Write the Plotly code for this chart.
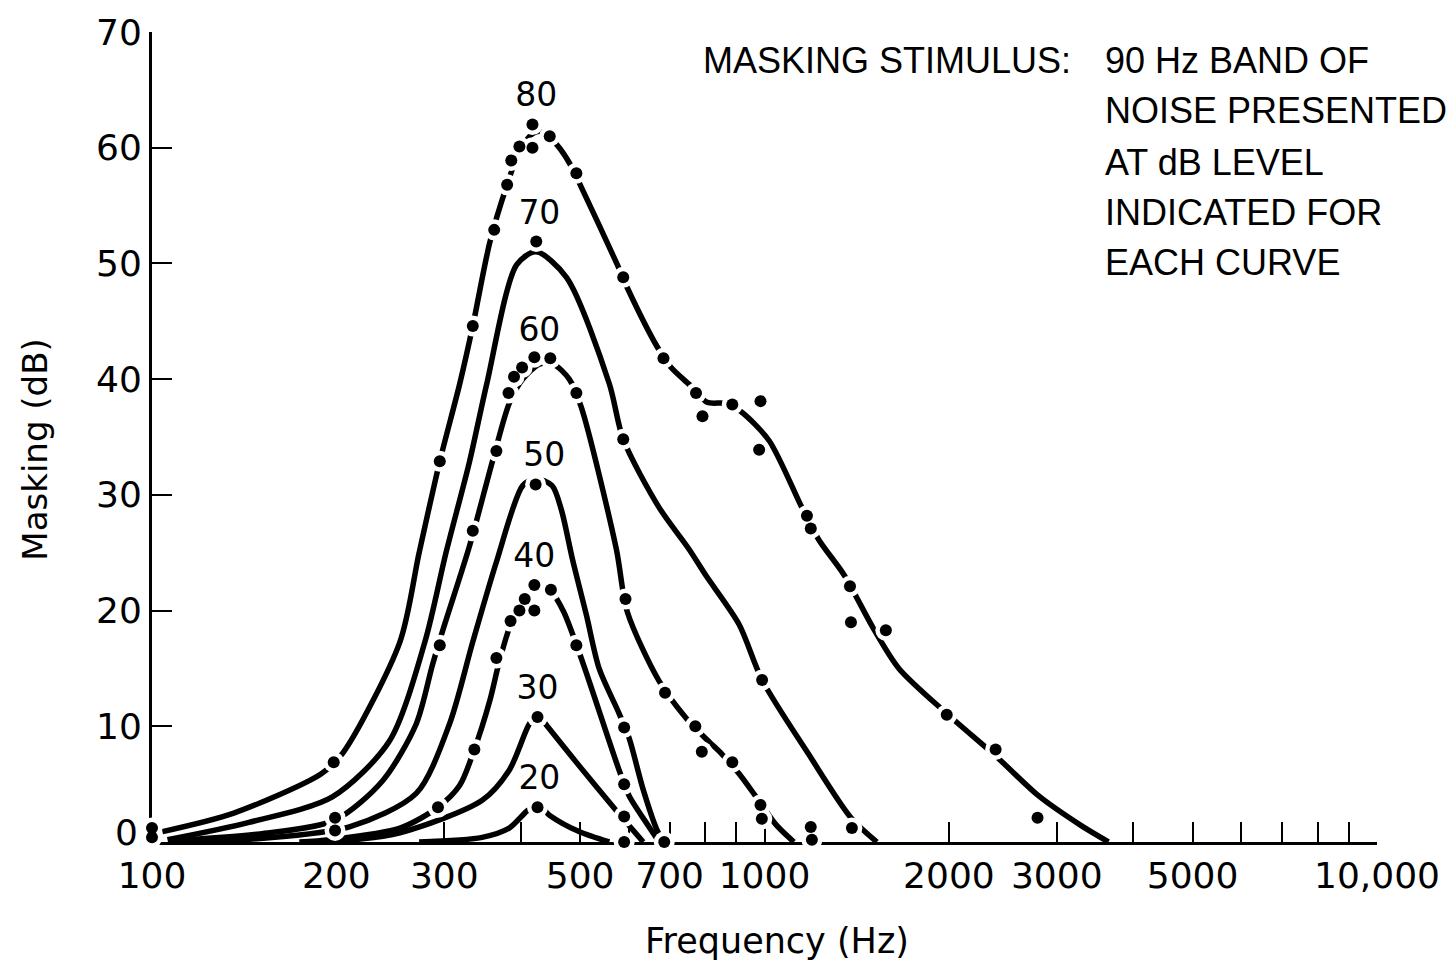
import plotly.graph_objects as go

# ---------------- data ----------------
levels = [80, 70, 60, 50, 40, 30, 20]

# smooth fitted curves (frequency Hz, masking dB)
c80_line_f = [104, 136, 189, 205, 254, 273, 295, 318, 334, 356, 380, 398, 418, 432, 459, 480, 498, 575, 597, 668, 704, 762, 806, 865, 915, 1017, 1151, 1227, 1348, 1508, 1657, 1984, 2400, 2800, 3270, 3644]
c80_line_db = [0.9, 2.5, 5.9, 7.7, 17.3, 25.0, 32.9, 39.6, 44.6, 51.8, 56.8, 59.7, 61.2, 61.4, 60.2, 58.7, 57.0, 49.9, 47.9, 42.8, 41.0, 39.3, 38.0, 37.9, 37.2, 34.7, 28.9, 26.1, 23.1, 18.4, 15.0, 11.1, 7.3, 4.0, 1.5, 0.0]

c70_line_f = [106, 144, 197, 244, 279, 302, 330, 352, 394, 424, 475, 558, 588, 673, 753, 803, 909, 991, 1180, 1384, 1526]
c70_line_db = [0.2, 1.7, 3.9, 8.7, 17.3, 25.0, 32.9, 39.6, 49.9, 51.0, 48.8, 39.6, 34.8, 28.9, 25.3, 23.0, 18.8, 14.0, 7.6, 2.1, 0.0]

c60_line_f = [107, 150, 199, 238, 270, 287, 298, 330, 360, 383, 403, 429, 452, 480, 502, 573, 597, 673, 745, 803, 852, 909, 969, 1044, 1117]
c60_line_db = [0.1, 0.7, 1.9, 5.3, 10.2, 15.3, 18.2, 25.6, 33.0, 37.9, 40.0, 41.3, 41.3, 40.0, 37.6, 25.3, 19.9, 13.9, 10.7, 8.9, 7.6, 5.9, 3.9, 1.5, 0.0]

c50_line_f = [109, 150, 210, 270, 306, 334, 365, 403, 423, 450, 466, 486, 512, 537, 579, 601, 634, 668, 686]
c50_line_db = [0.0, 0.3, 1.3, 4.2, 10.2, 17.3, 24.2, 30.8, 31.4, 30.8, 28.7, 24.4, 19.6, 15.0, 11.1, 9.0, 4.5, 1.0, 0.0]

c40_line_f = [174, 195, 254, 293, 318, 336, 356, 369, 386, 406, 429, 449, 470, 502, 579, 601, 648, 673]
c40_line_db = [0.0, 0.2, 1.2, 3.0, 4.9, 8.0, 12.2, 15.6, 19.0, 21.4, 22.0, 21.6, 19.9, 15.9, 6.2, 4.0, 1.3, 0.0]

c30_line_f = [195, 254, 346, 383, 413, 426, 442, 498, 573, 634]
c30_line_db = [0.0, 0.8, 3.6, 6.2, 10.2, 11.0, 10.0, 6.6, 2.7, 0.0]

c20_line_f = [273, 346, 383, 410, 426, 446, 498, 558]
c20_line_db = [0.0, 0.4, 1.2, 2.7, 3.2, 2.3, 0.9, 0.0]

# measured data points
c80_dot_f = [100, 198, 295, 334, 362, 380, 386, 398, 418, 418, 446, 493, 588, 684, 773, 792, 886, 985, 980, 1173, 1190, 1379, 1384, 1578, 1984, 2384, 2791]
c80_dot_db = [1.2, 6.9, 32.9, 44.6, 52.9, 56.8, 58.9, 60.1, 60.0, 62.0, 61.0, 57.8, 48.8, 41.8, 38.8, 36.8, 37.8, 38.1, 33.9, 28.2, 27.1, 22.1, 19.0, 18.3, 11.0, 8.0, 2.1]

c70_dot_f = [100, 424, 588, 991, 1389]
c70_dot_db = [0.4, 51.9, 34.8, 14.0, 1.2]

c60_dot_f = [199, 295, 334, 365, 382, 390, 402, 421, 447, 493, 593, 688, 771, 790, 886, 985, 990, 1190, 1195]
c60_dot_db = [2.1, 17.0, 26.9, 33.8, 38.8, 40.2, 41.0, 41.9, 41.8, 38.8, 21.0, 12.9, 10.0, 7.8, 6.9, 3.2, 2.0, 1.3, 0.2]

c50_dot_f = [423, 590, 686]
c50_dot_db = [30.9, 9.9, 0.0]

c40_dot_f = [199, 293, 336, 365, 385, 398, 406, 421, 448, 421, 493, 590, 590]
c40_dot_db = [1.0, 3.0, 8.0, 15.9, 19.1, 20.0, 21.0, 22.2, 21.8, 20.0, 17.0, 5.0, 0.0]

c30_dot_f = [426, 590]
c30_dot_db = [10.8, 2.2]

c20_dot_f = [426]
c20_dot_db = [3.0]

# curve labels (noise level in dB)
label_text = ["80", "70", "60", "50", "40", "30", "20"]
label_f = [424, 429, 429, 437, 421, 426, 429]
label_db = [64.3, 54.1, 44.0, 33.2, 24.5, 13.1, 5.3]

# axis ticks
x_tickvals = [100, 200, 300, 400, 500, 600, 700, 800, 900, 1000, 2000, 3000, 4000, 5000, 6000, 7000, 8000, 9000, 10000]
x_ticktext = ["100", "200", "300", "", "500", "", "700", "", "", "1000", "2000", "3000", "", "5000", "", "", "", "", "10,000"]
y_tickvals = [0, 10, 20, 30, 40, 50, 60, 70]
y_ticktext = ["", "10", "20", "30", "40", "50", "60", "70"]

note_lines = ["90 Hz BAND OF", "NOISE PRESENTED", "AT dB LEVEL", "INDICATED FOR", "EACH CURVE"]

# ---------------- figure ----------------
lines = [
    (c80_line_f, c80_line_db), (c70_line_f, c70_line_db), (c60_line_f, c60_line_db),
    (c50_line_f, c50_line_db), (c40_line_f, c40_line_db), (c30_line_f, c30_line_db),
    (c20_line_f, c20_line_db),
]
dots = [
    (c80_dot_f, c80_dot_db), (c70_dot_f, c70_dot_db), (c60_dot_f, c60_dot_db),
    (c50_dot_f, c50_dot_db), (c40_dot_f, c40_dot_db), (c30_dot_f, c30_dot_db),
    (c20_dot_f, c20_dot_db),
]

fig = go.Figure()

for lvl, (lf, ldb) in zip(levels, lines):
    fig.add_trace(go.Scatter(
        x=lf, y=ldb, mode="lines", name=f"{lvl} dB",
        line=dict(color="black", width=5.5, shape="spline", smoothing=0.8),
        cliponaxis=False, hoverinfo="skip",
    ))

all_dot_f = [f for df, _ in dots for f in df]
all_dot_db = [d for _, ddb in dots for d in ddb]

# white halo to break the lines around each measured point
fig.add_trace(go.Scatter(
    x=all_dot_f, y=all_dot_db, mode="markers",
    marker=dict(color="white", size=21, line=dict(width=0)),
    cliponaxis=False, hoverinfo="skip",
))
fig.add_trace(go.Scatter(
    x=all_dot_f, y=all_dot_db, mode="markers",
    marker=dict(color="black", size=12, line=dict(width=0)),
    cliponaxis=False,
))

fig.add_trace(go.Scatter(
    x=label_f, y=label_db, mode="text", text=label_text,
    textposition="middle center",
    textfont=dict(family="DejaVu Sans", size=33, color="black"),
    cliponaxis=False, hoverinfo="skip",
))

annotations = [
    dict(text="Frequency (Hz)", xref="paper", yref="paper", x=0.5106, y=-0.1224,
         xanchor="center", yanchor="middle", showarrow=False,
         font=dict(family="DejaVu Sans", size=35, color="black")),
    dict(text="Masking (dB)", xref="paper", yref="paper", x=-0.0953, y=0.4847,
         xanchor="center", yanchor="middle", showarrow=False, textangle=-90,
         font=dict(family="DejaVu Sans", size=34, color="black")),
    # y-axis "0" label sits slightly above the baseline in the reference
    dict(text="0", xref="paper", yref="paper", x=-0.0098, y=0.0122,
         xanchor="right", yanchor="middle", showarrow=False,
         font=dict(family="DejaVu Sans", size=36, color="black")),
    dict(text="MASKING STIMULUS:", xref="paper", yref="paper", x=0.4479, y=0.965,
         xanchor="left", yanchor="middle", showarrow=False,
         font=dict(family="Liberation Sans", size=36, color="black")),
]
note_y = [0.965, 0.903, 0.839, 0.777, 0.715]
for txt, yy in zip(note_lines, note_y):
    annotations.append(dict(text=txt, xref="paper", yref="paper", x=0.776, y=yy,
                            xanchor="left", yanchor="middle", showarrow=False,
                            font=dict(family="Liberation Sans", size=36, color="black")))

fig.update_layout(
    width=1452, height=963,
    margin=dict(l=152, r=72, t=25, b=121),
    plot_bgcolor="white", paper_bgcolor="white",
    showlegend=False,
    annotations=annotations,
    xaxis=dict(
        type="log", range=[2, 4],
        tickvals=x_tickvals, ticktext=x_ticktext,
        ticks="inside", ticklen=20, tickwidth=2, tickcolor="black",
        showline=True, linecolor="black", linewidth=3,
        showgrid=False, zeroline=False, layer="below traces",
        tickfont=dict(family="DejaVu Sans", size=36, color="black"),
    ),
    yaxis=dict(
        range=[0, 70], tickvals=y_tickvals, ticktext=y_ticktext,
        ticks="inside", ticklen=20, tickwidth=2, tickcolor="black",
        showline=True, linecolor="black", linewidth=3,
        showgrid=False, zeroline=False, layer="below traces",
        ticklabelstandoff=0,
        tickfont=dict(family="DejaVu Sans", size=36, color="black"),
    ),
)

fig.write_html("out.html")
